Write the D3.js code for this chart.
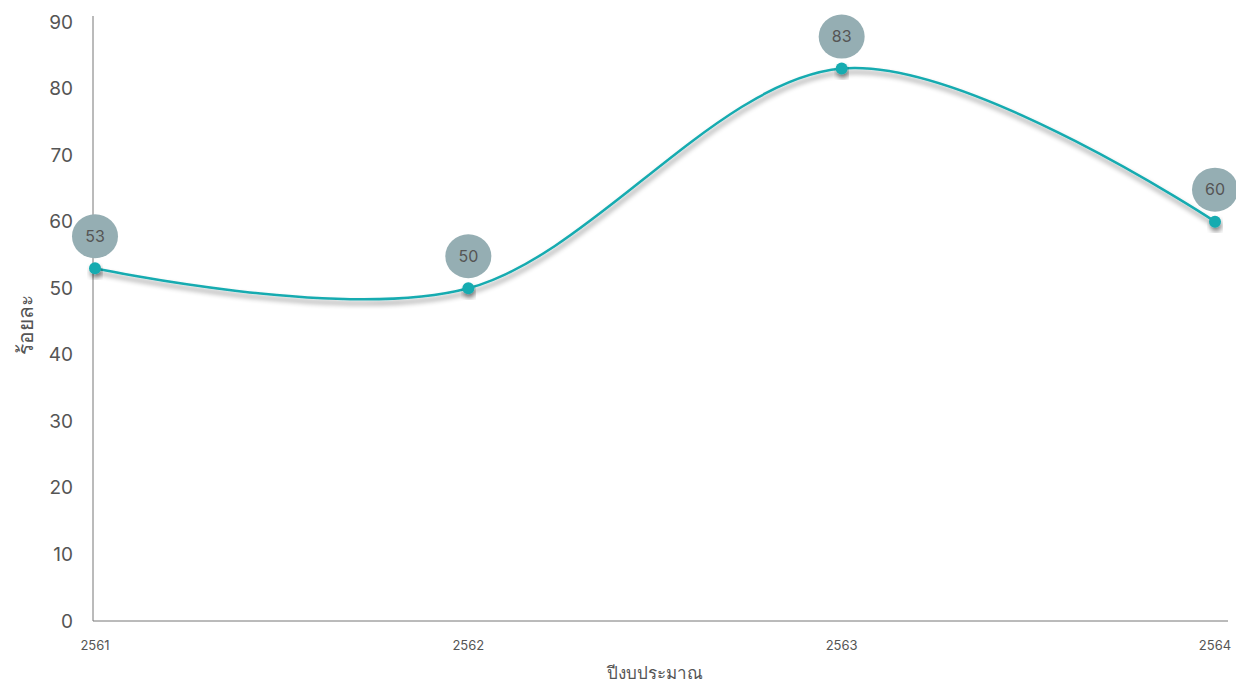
<!DOCTYPE html>
<html>
<head>
<meta charset="utf-8">
<script src="https://cdn.jsdelivr.net/npm/d3@7"></script>
<style>
  body { margin: 0; background: #fff; }
  svg { font-family: Inter, "Noto Sans", "DejaVu Sans", sans-serif; display: block; }
  .axis path, .axis line { stroke: #777; }
</style>
</head>
<body>
<div id="chart"></div>
<script>
const width = 1236,
  height = 683,
  margin = { top: 22, bottom: 62, left: 93, right: 8 };

const years = ["2561", "2562", "2563", "2564"];
const values = [53, 50, 83, 60];
const yTicks = [0, 10, 20, 30, 40, 50, 60, 70, 80, 90];

const data = years.map((y, i) => ({ year: y, value: values[i] }));

const svg = d3
  .select("#chart")
  .append("svg")
  .attr("width", width)
  .attr("height", height);

const defs = svg.append("defs");
const shadow = defs.append("filter").attr("id", "shadow")
  .attr("x", "-10%").attr("y", "-20%").attr("width", "120%").attr("height", "160%");
shadow.append("feDropShadow")
  .attr("dx", 1).attr("dy", 4).attr("stdDeviation", 2.5)
  .attr("flood-color", "#000").attr("flood-opacity", 0.45);

const xScale = d3
  .scalePoint()
  .domain(years)
  .range([95, 1215]);

const yScale = d3
  .scaleLinear()
  .domain([0, 90])
  .range([height - margin.bottom, margin.top]);

// x axis
const xAxis = svg
  .append("g")
  .attr("class", "axis x-axis")
  .attr("transform", `translate(0,${height - margin.bottom})`);
xAxis.append("line")
  .attr("x1", margin.left).attr("x2", 1228)
  .attr("stroke", "#777");
xAxis.selectAll("text")
  .data(years)
  .join("text")
  .attr("x", d => xScale(d))
  .attr("y", 29)
  .attr("text-anchor", "middle")
  .attr("fill", "#555")
  .attr("font-size", 13)
  .text(d => d);

// y axis
const yAxis = svg
  .append("g")
  .attr("class", "axis y-axis")
  .attr("transform", `translate(${margin.left},0)`)
  .call(d3.axisLeft(yScale).tickValues(yTicks).tickSize(0).tickPadding(20));
yAxis.select(".domain").attr("stroke", "#777").attr("d", `M0,${margin.top - 6}V${height - margin.bottom}`);
yAxis.selectAll("text")
  .attr("fill", "#555")
  .attr("font-size", 19)
  .attr("font-family", "Inter, 'Noto Sans', sans-serif");

// axis titles
svg.append("text")
  .attr("transform", `translate(33,325) rotate(-90)`)
  .attr("text-anchor", "middle")
  .attr("fill", "#555")
  .attr("font-size", 21)
  .text("ร้อยละ");

svg.append("text")
  .attr("x", 655)
  .attr("y", 679)
  .attr("text-anchor", "middle")
  .attr("fill", "#555")
  .attr("font-size", 17)
  .text("ปีงบประมาณ");

// line
const line = d3.line()
  .x(d => xScale(d.year))
  .y(d => yScale(d.value))
  .curve(d3.curveCardinal.tension(0));

svg.append("path")
  .datum(data)
  .attr("d", line)
  .attr("fill", "none")
  .attr("stroke", "#17abb0")
  .attr("stroke-width", 2.5)
  .attr("filter", "url(#shadow)");

svg.selectAll(".dot")
  .data(data)
  .join("circle")
  .attr("class", "dot")
  .attr("cx", d => xScale(d.year))
  .attr("cy", d => yScale(d.value))
  .attr("r", 6)
  .attr("fill", "#17abb0")
  .attr("filter", "url(#shadow)");

// bubbles
const labels = svg.selectAll(".bubble")
  .data(data)
  .join("g")
  .attr("class", "bubble")
  .attr("transform", d => `translate(${xScale(d.year)},${yScale(d.value) - 32})`);
labels.append("ellipse")
  .attr("rx", 23)
  .attr("ry", 22)
  .attr("fill", "#95aeb3");
labels.append("text")
  .attr("text-anchor", "middle")
  .attr("dy", "0.35em")
  .attr("fill", "#555")
  .attr("font-size", 16)
  .text(d => d.value);
</script>
</body>
</html>
